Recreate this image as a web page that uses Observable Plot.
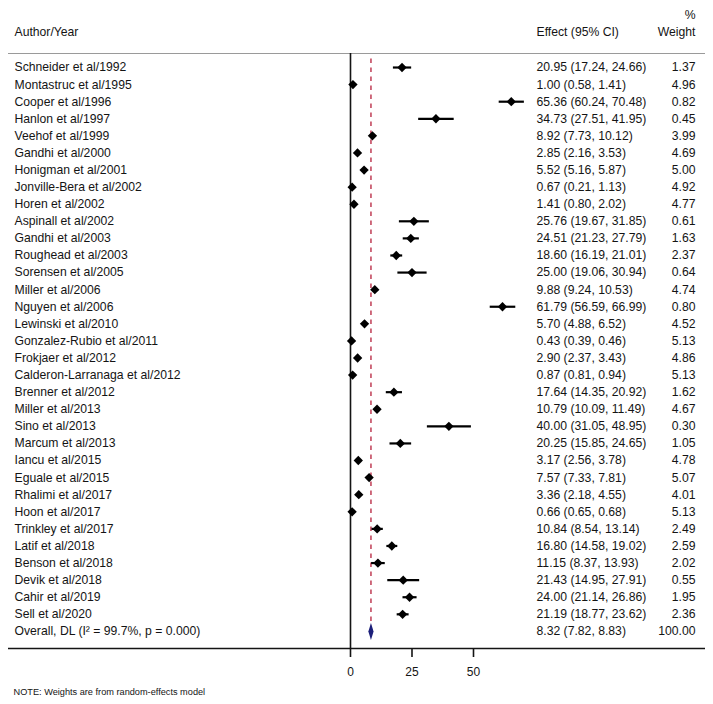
<!DOCTYPE html>
<html>
<head>
<meta charset="utf-8">
<script src="https://cdn.jsdelivr.net/npm/d3@7"></script>
<script src="https://cdn.jsdelivr.net/npm/@observablehq/plot@0.6"></script>
<style>
  html, body { margin: 0; padding: 0; background: #fff; }
  #chart svg { display: block; }
</style>
</head>
<body>
<div id="chart"></div>
<script>
const studies = [
  "Schneider et al/1992", "Montastruc et al/1995", "Cooper et al/1996", "Hanlon et al/1997",
  "Veehof et al/1999", "Gandhi et al/2000", "Honigman et al/2001", "Jonville-Bera et al/2002",
  "Horen et al/2002", "Aspinall et al/2002", "Gandhi et al/2003", "Roughead et al/2003",
  "Sorensen et al/2005", "Miller et al/2006", "Nguyen et al/2006", "Lewinski et al/2010",
  "Gonzalez-Rubio et al/2011", "Frokjaer et al/2012", "Calderon-Larranaga et al/2012", "Brenner et al/2012",
  "Miller et al/2013", "Sino et al/2013", "Marcum et al/2013", "Iancu et al/2015",
  "Eguale et al/2015", "Rhalimi et al/2017", "Hoon et al/2017", "Trinkley et al/2017",
  "Latif et al/2018", "Benson et al/2018", "Devik et al/2018", "Cahir et al/2019", "Sell et al/2020"
];
const effects = [20.95, 1.00, 65.36, 34.73, 8.92, 2.85, 5.52, 0.67, 1.41, 25.76, 24.51, 18.60, 25.00, 9.88, 61.79, 5.70, 0.43, 2.90, 0.87, 17.64, 10.79, 40.00, 20.25, 3.17, 7.57, 3.36, 0.66, 10.84, 16.80, 11.15, 21.43, 24.00, 21.19];
const lower   = [17.24, 0.58, 60.24, 27.51, 7.73, 2.16, 5.16, 0.21, 0.80, 19.67, 21.23, 16.19, 19.06, 9.24, 56.59, 4.88, 0.39, 2.37, 0.81, 14.35, 10.09, 31.05, 15.85, 2.56, 7.33, 2.18, 0.65, 8.54, 14.58, 8.37, 14.95, 21.14, 18.77];
const upper   = [24.66, 1.41, 70.48, 41.95, 10.12, 3.53, 5.87, 1.13, 2.02, 31.85, 27.79, 21.01, 30.94, 10.53, 66.99, 6.52, 0.46, 3.43, 0.94, 20.92, 11.49, 48.95, 24.65, 3.78, 7.81, 4.55, 0.68, 13.14, 19.02, 13.93, 27.91, 26.86, 23.62];
const weights = [1.37, 4.96, 0.82, 0.45, 3.99, 4.69, 5.00, 4.92, 4.77, 0.61, 1.63, 2.37, 0.64, 4.74, 0.80, 4.52, 5.13, 4.86, 5.13, 1.62, 4.67, 0.30, 1.05, 4.78, 5.07, 4.01, 5.13, 2.49, 2.59, 2.02, 0.55, 1.95, 2.36];

const overallLabel = "Overall, DL (I\u00B2 = 99.7%, p = 0.000)";
const overallEffect = 8.32, overallLower = 7.82, overallUpper = 8.83, overallWeight = 100.00;

const xTicks = [0, 25, 50];
const headerLabel = "Author/Year", headerEffect = "Effect (95% CI)", headerPct = "%", headerWeight = "Weight";
const noteText = "NOTE: Weights are from random-effects model";

const fmt = v => v.toFixed(2);
const rows = studies.map((s, i) => ({
  i, label: s, est: effects[i], lo: lower[i], hi: upper[i],
  text: `${fmt(effects[i])} (${fmt(lower[i])}, ${fmt(upper[i])})`,
  w: fmt(weights[i])
}));
const overallRow = {
  i: studies.length, label: overallLabel, est: overallEffect, lo: overallLower, hi: overallUpper,
  text: `${fmt(overallEffect)} (${fmt(overallLower)}, ${fmt(overallUpper)})`,
  w: fmt(overallWeight)
};
const allRows = [...rows, overallRow];

const yTop = -0.82, yBot = allRows.length;
const font = "'Liberation Sans', Arial, sans-serif";
const ink = "#141414";

// narrow, tall diamond for the pooled estimate
const tallDiamond = {
  draw(ctx) {
    const w = 2.6, h = 8.5;
    ctx.moveTo(0, -h); ctx.lineTo(w, 0); ctx.lineTo(0, h); ctx.lineTo(-w, 0); ctx.closePath();
  }
};

const marks = [
  Plot.ruleY([yTop], {stroke: "#9a9a9a", strokeWidth: 1.2}),
  Plot.ruleX([0], {y1: yTop, y2: yBot, stroke: ink, strokeWidth: 1.6}),
  Plot.ruleX([overallEffect], {y1: -0.5, y2: overallRow.i - 0.3, stroke: "#bb3049", strokeWidth: 1.4, strokeDasharray: "4.5,4.5"}),
  Plot.link(rows, {x1: "lo", x2: "hi", y1: "i", y2: "i", stroke: "#000", strokeWidth: 2.2}),
  Plot.dot(rows, {x: "est", y: "i", symbol: "diamond2", r: 4.2, fill: "#000", stroke: "none"}),
  Plot.dot([overallRow], {x: "est", y: "i", symbol: tallDiamond, fill: "#1c1f7a", stroke: "none"}),
  Plot.ruleY([yBot], {stroke: ink, strokeWidth: 1.6}),
  // row labels
  Plot.text(allRows, {y: "i", text: "label", frameAnchor: "left", dx: 6, textAnchor: "start", fontSize: 12.2, fill: ink}),
  Plot.text(allRows, {y: "i", text: "text", frameAnchor: "left", dx: 528, textAnchor: "start", fontSize: 12.2, fill: ink}),
  Plot.text(allRows, {y: "i", text: "w", frameAnchor: "right", dx: -10, textAnchor: "end", fontSize: 12.2, fill: ink}),
  // headers
  Plot.text([headerLabel], {frameAnchor: "top-left", dx: 6, dy: -21, textAnchor: "start", lineAnchor: "middle", fontSize: 12.2, fill: ink}),
  Plot.text([headerEffect], {frameAnchor: "top-left", dx: 528, dy: -21, textAnchor: "start", lineAnchor: "middle", fontSize: 12.2, fill: ink}),
  Plot.text([headerWeight], {frameAnchor: "top-right", dx: -10, dy: -21, textAnchor: "end", lineAnchor: "middle", fontSize: 12.2, fill: ink}),
  Plot.text([headerPct], {frameAnchor: "top-right", dx: -10, dy: -38, textAnchor: "end", lineAnchor: "middle", fontSize: 12.2, fill: ink}),
  // note
  Plot.text([noteText], {frameAnchor: "bottom-left", dx: 5, dy: 44, textAnchor: "start", lineAnchor: "middle", fontSize: 9.2, fill: ink})
];

if (Plot.axisX) {
  marks.push(Plot.axisX(xTicks, {anchor: "bottom", tickSize: 9, tickPadding: 10, strokeWidth: 1.6, stroke: ink, fill: ink, fontSize: 12, label: null}));
}

const chart = Plot.plot({
  width: 713,
  height: 704,
  marginTop: 53,
  marginBottom: 56,
  marginLeft: 8,
  marginRight: 8,
  style: {fontFamily: font, fontSize: "12px", color: ink, background: "#fff"},
  x: Plot.axisX ? {domain: [-139.02, 144.31], axis: null} : {domain: [-139.02, 144.31], ticks: xTicks, tickSize: 9, tickPadding: 10, label: null},
  y: {domain: [yTop, yBot], reverse: true, axis: null},
  marks
});
document.getElementById("chart").appendChild(chart);
</script>
</body>
</html>
